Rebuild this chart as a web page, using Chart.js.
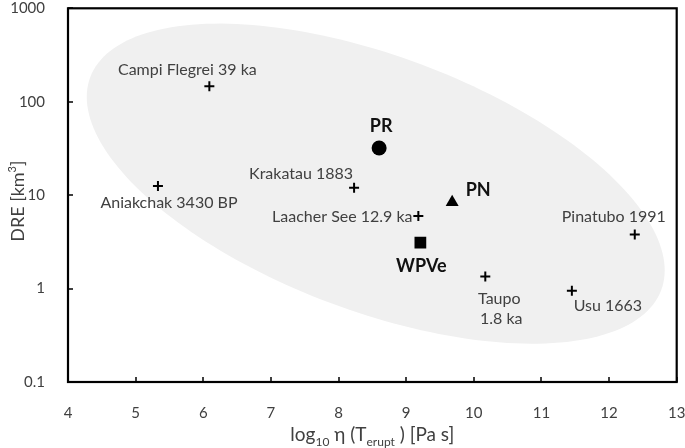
<!DOCTYPE html>
<html>
<head>
<meta charset="utf-8">
<script src="https://cdn.jsdelivr.net/npm/chart.js@4.4.1/dist/chart.umd.min.js"></script>
<style>
  body { margin: 0; background: #fff; }
  #wrap { width: 685px; height: 448px; }
</style>
</head>
<body>
<div id="wrap"><canvas id="dre_chart"></canvas></div>
<script>
// eruptions from the literature (plotted as +)
const volcanoes = ['Campi Flegrei 39 ka', 'Aniakchak 3430 BP', 'Krakatau 1883', 'Laacher See 12.9 ka', 'Taupo|1.8 ka', 'Usu 1663', 'Pinatubo 1991']
const volcanoViscosity = [6.09, 5.33, 8.23, 9.18, 10.17, 11.45, 12.38]
const volcanoDRE = [146, 12.5, 12.0, 6.0, 1.35, 0.95, 3.8]

// units of this study
const units = ['PR', 'PN', 'WPVe']
const unitViscosity = [8.60, 9.68, 9.21]
const unitDRE = [32, 8.4, 3.1]

const xTicks = [4, 5, 6, 7, 8, 9, 10, 11, 12, 13]
const yTicks = [0.1, 1, 10, 100, 1000]

// label placement, pixels from the marker (centre of text)
const volcanoLabelPos = [[-22, -17], [11, 17], [-53, -14], [-76, 1], [14, 22], [36, 15], [-21, -18]]
const unitLabelPos = [[2, -22], [26, -12], [1, 24]]

// grey field, in data units (x, log10 y)
const field = { cx: 8.55, cly: 1.123, ax: 4.22, ay: -1.141, bx: -0.667, by: -1.278 }

const FONT = 'Lato, "Open Sans", sans-serif'
const canvas = document.querySelector('#dre_chart')

function drawRuns(ctx, runs, cx, cy, size) {
    // runs: [text, 'n' | 'sub' | 'sup']
    const fontFor = (k) => (k === 'n' ? size : Math.round(size * 0.62)) + 'px ' + FONT
    let total = 0
    runs.forEach(r => { ctx.font = fontFor(r[1]); total += ctx.measureText(r[0]).width })
    let x = cx - total / 2
    ctx.textAlign = 'left'
    ctx.textBaseline = 'alphabetic'
    runs.forEach(r => {
        ctx.font = fontFor(r[1])
        let dy = 0
        if (r[1] === 'sub') dy = size * 0.28
        if (r[1] === 'sup') dy = -size * 0.42
        ctx.fillText(r[0], x, cy + dy)
        x += ctx.measureText(r[0]).width
    })
}

const extras = {
    id: 'extras',
    beforeDatasetsDraw(chart) {
        const { ctx, scales: { x, y } } = chart
        ctx.save()
        ctx.beginPath()
        for (let i = 0; i <= 200; i++) {
            const t = i / 200 * Math.PI * 2
            const vx = field.cx + field.ax * Math.cos(t) + field.bx * Math.sin(t)
            const vl = field.cly + field.ay * Math.cos(t) + field.by * Math.sin(t)
            const px = x.getPixelForValue(vx)
            const py = y.getPixelForValue(Math.pow(10, vl))
            if (i === 0) ctx.moveTo(px, py); else ctx.lineTo(px, py)
        }
        ctx.closePath()
        ctx.fillStyle = '#f0f0f0'
        ctx.fill()
        ctx.restore()
    },
    afterDatasetsDraw(chart) {
        const { ctx, chartArea: a, scales: { x, y } } = chart
        ctx.save()
        // frame
        ctx.strokeStyle = '#000'
        ctx.lineWidth = 2.2
        ctx.strokeRect(a.left, a.top, a.right - a.left, a.bottom - a.top)
        // inward ticks
        ctx.lineWidth = 1.5
        ctx.beginPath()
        xTicks.forEach(v => {
            const px = Math.round(x.getPixelForValue(v))
            ctx.moveTo(px, a.bottom); ctx.lineTo(px, a.bottom - 5)
        })
        yTicks.forEach(v => {
            const py = Math.round(y.getPixelForValue(v))
            ctx.moveTo(a.left, py); ctx.lineTo(a.left + 5, py)
        })
        ctx.stroke()

        // point labels
        ctx.textAlign = 'center'
        ctx.textBaseline = 'middle'
        ctx.fillStyle = '#404040'
        ctx.font = '16px ' + FONT
        volcanoes.forEach((name, i) => {
            const px = x.getPixelForValue(volcanoViscosity[i])
            const py = y.getPixelForValue(volcanoDRE[i])
            const [dx, dy] = volcanoLabelPos[i]
            name.split('|').forEach((line, j) => {
                ctx.fillText(line, px + dx + j * 2, py + dy + j * 20)
            })
        })
        ctx.fillStyle = '#111'
        ctx.font = 'bold 18px ' + FONT
        units.forEach((name, i) => {
            const px = x.getPixelForValue(unitViscosity[i])
            const py = y.getPixelForValue(unitDRE[i])
            const [dx, dy] = unitLabelPos[i]
            ctx.fillText(name, px + dx, py + dy)
        })

        // axis titles
        ctx.fillStyle = '#404040'
        drawRuns(ctx, [['log', 'n'], ['10', 'sub'], [' \u03b7 (T', 'n'], ['erupt', 'sub'], [' ) [Pa s]', 'n']], (a.left + a.right) / 2, 441, 19)
        ctx.translate(24, (a.top + a.bottom) / 2 + 6)
        ctx.rotate(-Math.PI / 2)
        drawRuns(ctx, [['DRE [km', 'n'], ['3', 'sup'], [']', 'n']], 0, 0, 18)
        ctx.restore()
    }
}

function zeroPad(scale) {
    scale.paddingLeft = 0
    scale.paddingRight = 0
    scale.paddingTop = 0
    scale.paddingBottom = 0
}

function dreChart() {
    new Chart(canvas, {
        type: 'scatter',
        data: {
            datasets: [{
                label: 'eruptions',
                data: volcanoViscosity.map((v, i) => ({ x: v, y: volcanoDRE[i] })),
                pointStyle: 'cross',
                radius: 5,
                borderWidth: 2,
                borderColor: '#000',
                backgroundColor: '#000'
            }, {
                label: 'this study',
                data: unitViscosity.map((v, i) => ({ x: v, y: unitDRE[i] })),
                pointStyle: ['circle', 'triangle', 'rect'],
                radius: [7.5, 7.5, 8.3],
                borderWidth: 0,
                borderColor: '#000',
                backgroundColor: '#000'
            }]
        },
        options: {
            responsive: true,
            maintainAspectRatio: false,
            animation: false,
            layout: { padding: { top: 6, right: 8, left: 0, bottom: 0 } },
            plugins: { legend: { display: false }, tooltip: { enabled: false } },
            scales: {
                x: {
                    type: 'linear',
                    min: 4,
                    max: 13,
                    grid: { display: false },
                    border: { display: false },
                    afterBuildTicks: (s) => { s.ticks = xTicks.map(v => ({ value: v })) },
                    afterFit: (s) => { s.height = 66; zeroPad(s) },
                    ticks: {
                        padding: 14,
                        color: '#404040',
                        font: { family: FONT, size: 15 }
                    }
                },
                y: {
                    type: 'logarithmic',
                    min: 0.1,
                    max: 1000,
                    grid: { display: false },
                    border: { display: false },
                    afterBuildTicks: (s) => { s.ticks = yTicks.map(v => ({ value: v })) },
                    afterFit: (s) => { s.width = 68; zeroPad(s) },
                    ticks: {
                        padding: 15,
                        color: '#404040',
                        font: { family: FONT, size: 15 },
                        callback: (v) => String(v)
                    }
                }
            }
        },
        plugins: [extras]
    })
}
dreChart()
</script>
</body>
</html>
